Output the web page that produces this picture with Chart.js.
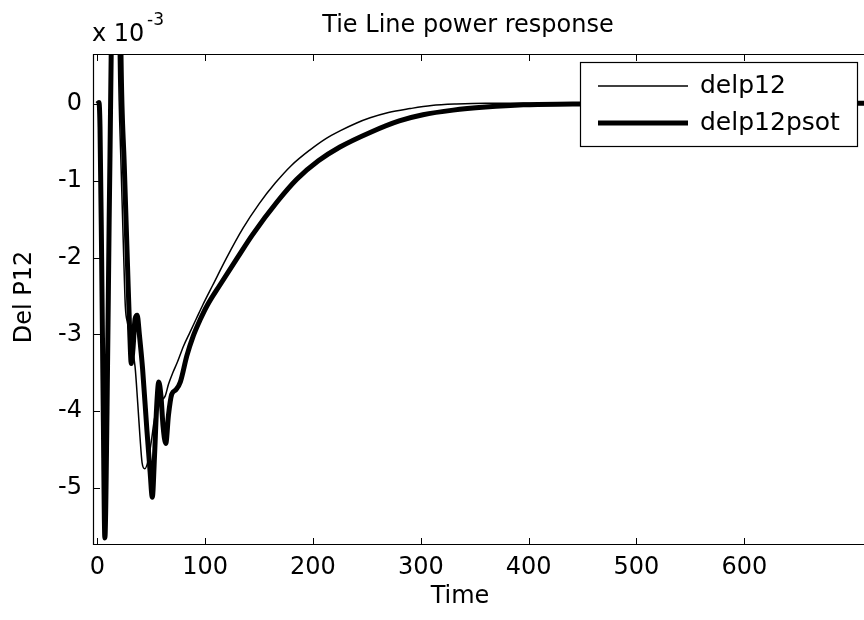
<!DOCTYPE html>
<html>
<head>
<meta charset="utf-8">
<title>Tie Line power response</title>
<script src="https://cdn.jsdelivr.net/npm/chart.js@4/dist/chart.umd.min.js"></script>
<style>
  body { margin: 0; background: #fff; }
  canvas { display: block; }
</style>
</head>
<body>
<canvas id="tieChart" width="864" height="620"></canvas>
<script>
// delP12 in units of 1e-3 (the axis carries the "x 10^-3" multiplier)
const timeThin = [0, 1.5, 2.5, 4, 5.5, 7, 9, 11, 13, 15.5, 18, 19.5, 22, 24.5, 26, 28, 31, 35, 37.5, 39.6,
    41.5, 44, 47, 50, 53, 56, 60, 63, 66, 70, 74, 80, 86, 92, 98, 107, 120, 135, 150, 165,
    180, 197, 212, 225, 240, 253, 270, 290, 310, 333, 360, 400, 450, 500, 600, 711];
const delp12 = [0, 0.02, -0.3, -2.0, -4.0, -5.6, -4.0, -1.5, 0.8, 4.5, 3.0, 0.65, -0.8, -2.0, -2.64, -2.85, -3.1, -3.42, -3.9, -4.34,
    -4.67, -4.75, -4.65, -4.4, -4.1, -3.9, -3.85, -3.8, -3.65, -3.5, -3.37, -3.15, -2.97, -2.79, -2.61, -2.36, -2.0, -1.62, -1.3, -1.03,
    -0.8, -0.6, -0.45, -0.35, -0.25, -0.18, -0.11, -0.06, -0.02, 0.0, 0.01, 0.01, 0.01, 0.01, 0.01, 0.01];

const timeThick = [0, 1.5, 2.5, 4, 5.5, 7, 9, 11, 13, 16, 19, 22, 25, 28, 30, 31.5, 33, 35, 37, 39,
    42, 46, 49, 51, 53, 55, 57, 59, 61, 63.5, 66, 69, 73, 77, 83, 89, 95, 102, 114, 130,
    144, 167, 185, 205, 225, 253, 280, 302, 330, 360, 395, 441, 500, 600, 711];
const delp12psot = [0, 0.02, -0.3, -2.0, -4.0, -5.65, -4.0, -1.5, 0.8, 6.0, 5.0, 0.6, -0.8, -2.1, -2.95, -3.38, -3.2, -2.8, -2.75, -3.0,
    -3.45, -4.25, -4.8, -5.12, -4.6, -3.95, -3.62, -3.8, -4.2, -4.42, -4.05, -3.78, -3.72, -3.62, -3.28, -3.02, -2.82, -2.62, -2.35, -2.0,
    -1.7, -1.27, -0.98, -0.74, -0.56, -0.37, -0.22, -0.14, -0.08, -0.04, -0.01, 0, 0.01, 0.01, 0.01];

const xTicks = [0, 100, 200, 300, 400, 500, 600];
const yTicks = [0, -1, -2, -3, -4, -5];
const seriesNames = ["delp12", "delp12psot"];
const lineWidths = [1.5, 5];

const FONT = "'DejaVu Sans', sans-serif";

function toPoints(xs, ys) {
    return xs.map((x, i) => ({ x: x, y: ys[i] }));
}

// box, inward ticks, legend and the titles, drawn in matlab style
const matlabFrame = {
    id: "matlabFrame",
    afterDatasetsDraw(chart) {
        const ctx = chart.ctx;
        const a = chart.chartArea;
        const xs = chart.scales.x;
        const ys = chart.scales.y;

        ctx.save();
        ctx.strokeStyle = "#000";
        ctx.lineWidth = 1.2;
        ctx.beginPath();
        ctx.moveTo(a.right, a.top + 0.5);
        ctx.lineTo(a.left + 0.5, a.top + 0.5);
        ctx.lineTo(a.left + 0.5, a.bottom - 0.5);
        ctx.lineTo(a.right, a.bottom - 0.5);
        ctx.stroke();

        ctx.lineWidth = 1;
        ctx.beginPath();
        xTicks.forEach(t => {
            const px = Math.round(xs.getPixelForValue(t)) + 0.5;
            ctx.moveTo(px, a.bottom);
            ctx.lineTo(px, a.bottom - 7);
            ctx.moveTo(px, a.top);
            ctx.lineTo(px, a.top + 7);
        });
        yTicks.forEach(t => {
            const py = Math.round(ys.getPixelForValue(t)) + 0.5;
            ctx.moveTo(a.left, py);
            ctx.lineTo(a.left + 7, py);
        });
        ctx.stroke();

        // legend
        const lx = 580, ly = 62, lw = 277, lh = 84;
        ctx.fillStyle = "#fff";
        ctx.fillRect(lx, ly, lw, lh);
        ctx.lineWidth = 1.2;
        ctx.strokeRect(lx + 0.5, ly + 0.5, lw, lh);

        const rowY = [86, 123];
        rowY.forEach((y, i) => {
            ctx.lineWidth = lineWidths[i];
            ctx.beginPath();
            ctx.moveTo(598, y);
            ctx.lineTo(688, y);
            ctx.stroke();
            ctx.fillStyle = "#000";
            ctx.font = "25px " + FONT;
            ctx.textAlign = "left";
            ctx.textBaseline = "middle";
            ctx.fillText(seriesNames[i], 700, y);
        });

        // title, axis labels, exponent
        ctx.fillStyle = "#000";
        ctx.textBaseline = "alphabetic";
        ctx.textAlign = "center";
        ctx.font = "24px " + FONT;
        ctx.fillText("Tie Line power response", 468, 32);
        ctx.fillText("Time", 460, 603);

        ctx.save();
        ctx.translate(31, 297);
        ctx.rotate(-Math.PI / 2);
        ctx.fillText("Del P12", 0, 0);
        ctx.restore();

        ctx.textAlign = "left";
        ctx.font = "24px " + FONT;
        ctx.fillText("x 10", 92, 41);
        ctx.font = "17px " + FONT;
        ctx.fillText("-3", 147, 25);
        ctx.restore();
    }
};

function createChart() {
    const ctx = document.getElementById("tieChart").getContext("2d");

    window.myChart = new Chart(ctx, {
        type: "line",
        data: {
            datasets: [{
                label: seriesNames[0],
                data: toPoints(timeThin, delp12),
                borderColor: "#000",
                borderWidth: lineWidths[0],
                pointRadius: 0,
                cubicInterpolationMode: "monotone",
                clip: 0,
                order: 1
            }, {
                label: seriesNames[1],
                data: toPoints(timeThick, delp12psot),
                borderColor: "#000",
                borderWidth: lineWidths[1],
                pointRadius: 0,
                cubicInterpolationMode: "monotone",
                clip: 0,
                order: 0
            }]
        },
        options: {
            responsive: false,
            animation: false,
            layout: { padding: { top: 54, right: 0, bottom: 0, left: 0 } },
            plugins: {
                legend: { display: false },
                tooltip: { enabled: false },
                title: { display: false }
            },
            scales: {
                x: {
                    type: "linear",
                    min: -4,
                    max: 711,
                    afterBuildTicks: s => { s.ticks = xTicks.map(v => ({ value: v })); },
                    afterFit: s => { s.height = 75; },
                    grid: { display: false, drawTicks: false },
                    border: { display: false },
                    ticks: { color: "#000", padding: 8, maxRotation: 0, font: { family: FONT, size: 24 } }
                },
                y: {
                    type: "linear",
                    min: -5.742,
                    max: 0.651,
                    afterBuildTicks: s => { s.ticks = yTicks.map(v => ({ value: v })); },
                    afterFit: s => { s.width = 93; },
                    grid: { display: false, drawTicks: false },
                    border: { display: false },
                    ticks: { color: "#000", padding: 11, font: { family: FONT, size: 24 } }
                }
            }
        },
        plugins: [matlabFrame]
    });
}

createChart();
</script>
</body>
</html>
